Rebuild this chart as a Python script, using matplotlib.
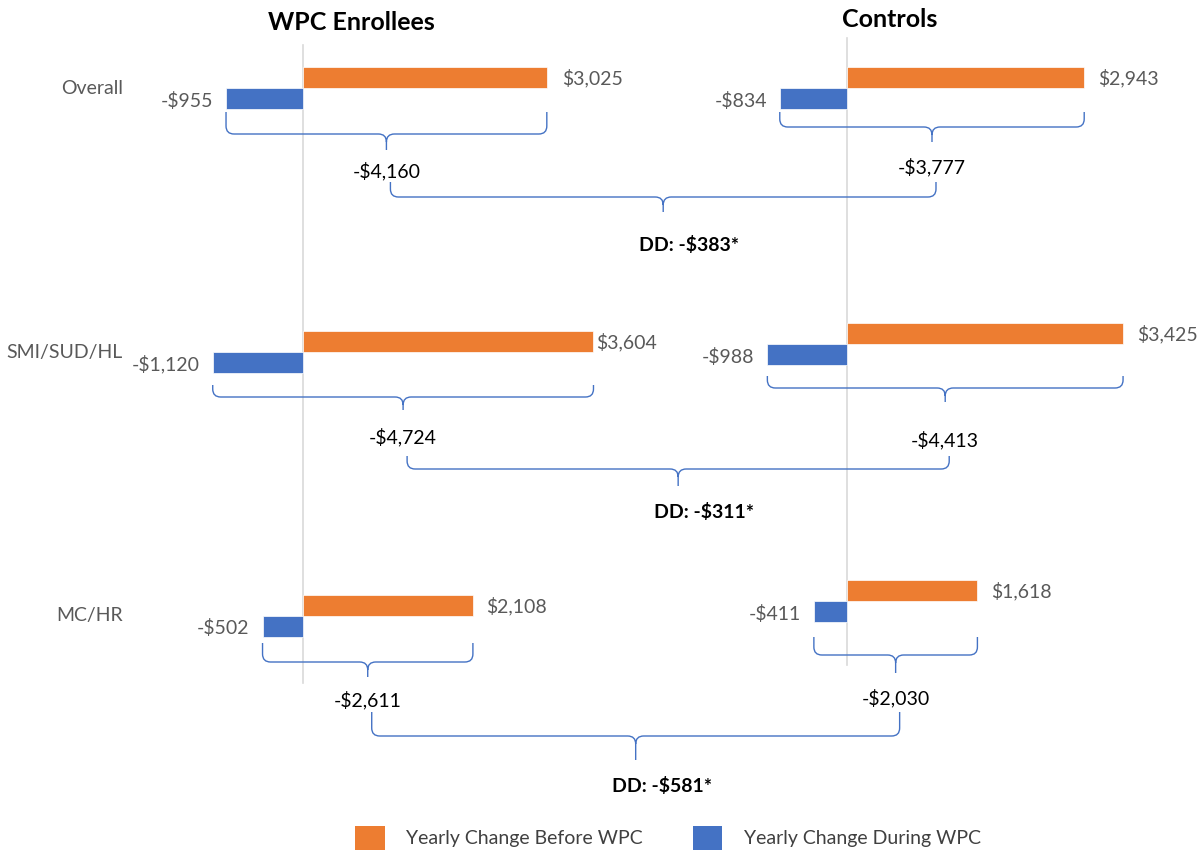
import matplotlib
matplotlib.use("Agg")
import matplotlib.pyplot as plt
from matplotlib.path import Path
from matplotlib.patches import PathPatch, Patch

plt.rcParams['font.family'] = ['Lato', 'DejaVu Sans']

# data
categories = ['Overall', 'SMI/SUD/HL', 'MC/HR']
wpc_before = [3025, 3604, 2108]
wpc_during = [-955, -1120, -502]
ctrl_before = [2943, 3425, 1618]
ctrl_during = [-834, -988, -411]
wpc_diff = [-4160, -4724, -2611]
ctrl_diff = [-3777, -4413, -2030]
dd_values = [-383, -311, -581]

ORANGE = '#ED7D31'
BLUE = '#4472C4'
GRAY = '#595959'

# layout (pixels from top of the picture)
SCALE = 0.0806          # pixels per dollar
ZERO_L = 303            # pixel x of the left zero line
ZERO_R = 847            # pixel x of the right zero line
OFFSET = (ZERO_R - ZERO_L) / SCALE
BAR_H = 21
left_top = [67, 331, 595]
right_top = [67, 323, 580]
left_gap = [15, 3, 13]   # gap between orange bar end and its label
right_gap = [14, 14, 14]
left_brace = [(112, 134, 150), (385, 397, 410), (643, 662, 677)]
right_brace = [(112, 127, 142), (376, 388, 402), (637, 655, 673)]
left_lab_y = [171, 437, 700]
right_lab_y = [167, 440, 698]
big_brace = [(182, 197, 212), (456, 469, 486), (712, 736, 760)]
dd_y = [245, 512, 786]
FS = 14


def px(x):
    return (x - ZERO_L) / SCALE


def money(v):
    return ('-$' if v < 0 else '$') + format(abs(v), ',')


def brace(ax, x0, x1, ytop, yh, ytip):
    xm = (x0 + x1) / 2
    r = 8
    rx = r / SCALE
    verts = [(x0, ytop), (x0, yh - r), (x0, yh), (x0 + rx, yh),
             (xm - rx, yh), (xm, yh), (xm, yh + r), (xm, ytip),
             (xm, yh + r), (xm, yh), (xm + rx, yh),
             (x1 - rx, yh), (x1, yh), (x1, yh - r), (x1, ytop)]
    codes = [Path.MOVETO, Path.LINETO, Path.CURVE3, Path.CURVE3,
             Path.LINETO, Path.CURVE3, Path.CURVE3, Path.LINETO,
             Path.MOVETO, Path.CURVE3, Path.CURVE3,
             Path.LINETO, Path.CURVE3, Path.CURVE3, Path.LINETO]
    ax.add_patch(PathPatch(Path(verts, codes), fill=False, edgecolor=BLUE, lw=1.0))
    return xm


fig = plt.figure(figsize=(12.04, 8.5), dpi=100)
ax = fig.add_axes([0, 0, 1, 1])
ax.set_xlim(px(0), px(1204))
ax.set_ylim(850, 0)
ax.axis('off')

# zero lines
ax.plot([0, 0], [45, 683], color='#D9D9D9', lw=1.2, zorder=0)
ax.plot([OFFSET, OFFSET], [38, 665], color='#D9D9D9', lw=1.2, zorder=0)

ax.text(px(351), 22, 'WPC Enrollees', ha='center', va='center', fontsize=18, fontweight='bold')
ax.text(px(890), 19, 'Controls', ha='center', va='center', fontsize=18, fontweight='bold')

for i, cat in enumerate(categories):
    ax.text(px(123), left_top[i] + BAR_H, cat, ha='right', va='center', fontsize=FS, color=GRAY)

    for base, tops, gaps, before, during in [(0, left_top, left_gap, wpc_before, wpc_during),
                                             (OFFSET, right_top, right_gap, ctrl_before, ctrl_during)]:
        yo = tops[i] + BAR_H / 2
        yb = tops[i] + BAR_H * 1.5
        ax.barh(yo, before[i], left=base, height=BAR_H, color=ORANGE, edgecolor='white', lw=0.5)
        ax.barh(yb, during[i], left=base, height=BAR_H, color=BLUE, edgecolor='white', lw=0.5)
        ax.text(base + before[i] + gaps[i] / SCALE, yo + 1, money(before[i]),
                ha='left', va='center', fontsize=FS, color=GRAY)
        ax.text(base + during[i] - 13 / SCALE, yb + 2, money(during[i]),
                ha='right', va='center', fontsize=FS, color=GRAY)

    xl = brace(ax, wpc_during[i], wpc_before[i], *left_brace[i])
    xr = brace(ax, OFFSET + ctrl_during[i], OFFSET + ctrl_before[i], *right_brace[i])
    ax.text(xl, left_lab_y[i], money(wpc_diff[i]), ha='center', va='center', fontsize=FS)
    ax.text(xr, right_lab_y[i], money(ctrl_diff[i]), ha='center', va='center', fontsize=FS)

    xm = brace(ax, xl + 4 / SCALE, xr + 4 / SCALE, *big_brace[i])
    ax.text(xm + 26 / SCALE, dd_y[i], 'DD: ' + money(dd_values[i]) + '*',
            ha='center', va='center', fontsize=FS, fontweight='bold')

handles = [Patch(facecolor=ORANGE), Patch(facecolor=BLUE)]
fig.legend(handles, ['Yearly Change Before WPC', 'Yearly Change During WPC'],
           loc='center', bbox_to_anchor=(668 / 1204, 1 - 838 / 850), ncol=2,
           frameon=False, fontsize=FS, handlelength=1.5, handleheight=1.6,
           handletextpad=1.1, columnspacing=2.6, labelcolor='#404040')

fig.savefig('out.png', dpi=100)
